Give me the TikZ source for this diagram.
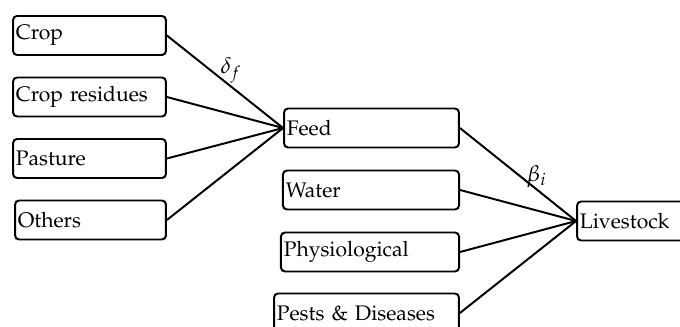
\documentclass[tikz,border=0pt]{standalone}
\usepackage[T1]{fontenc}
\usepackage{mathpazo}
\usepackage{amsmath}

\tikzset{
  blk/.style={draw, rounded corners=1mm, line width=1.4pt, minimum height=0.975cm, inner xsep=2pt, align=left, font=\fontsize{15}{18}\selectfont},
  lnk/.style={line width=1.4pt},
}

\begin{document}
\begin{tikzpicture}[x=0.025cm, y=-0.025cm]
    \clip (0, 0) rectangle (680, 327);

    % sources of feed
    \node[blk, text width=3.68cm] (crop) at (89.5, 35.5) {Crop};
    \node[blk, text width=3.68cm] (residues) at (89.5, 97) {Crop residues};
    \node[blk, text width=3.68cm] (pasture) at (89.5, 158.5) {Pasture};
    \node[blk, text width=3.63cm] (others) at (90.5, 220) {Others};

    % inputs of livestock
    \node[blk, text width=4.23cm] (feed) at (371.5, 128) {Feed};
    \node[blk, text width=4.26cm] (water) at (371, 190) {Water};
    \node[blk, text width=4.31cm] (physio) at (370, 252) {Physiological};
    \node[blk, text width=4.48cm] (pests) at (366.5, 313) {Pests \& Diseases};

    \node[blk, text width=3.43cm] (livestock) at (648.5, 221) {Livestock};

    \draw[lnk] (crop.east) -- (feed.west) node[pos=0.55, above, inner sep=1.5pt, font=\fontsize{16}{18}\selectfont] {$\delta_f$};
    \draw[lnk] (residues.east) -- (feed.west);
    \draw[lnk] (pasture.east) -- (feed.west);
    \draw[lnk] (others.east) -- (feed.west);

    \draw[lnk] (feed.east) -- (livestock.west) node[pos=0.66, above, inner sep=0.5pt, font=\fontsize{16}{18}\selectfont] {$\beta_i$};
    \draw[lnk] (water.east) -- (livestock.west);
    \draw[lnk] (physio.east) -- (livestock.west);
    \draw[lnk] (pests.east) -- (livestock.west);
\end{tikzpicture}
\end{document}
